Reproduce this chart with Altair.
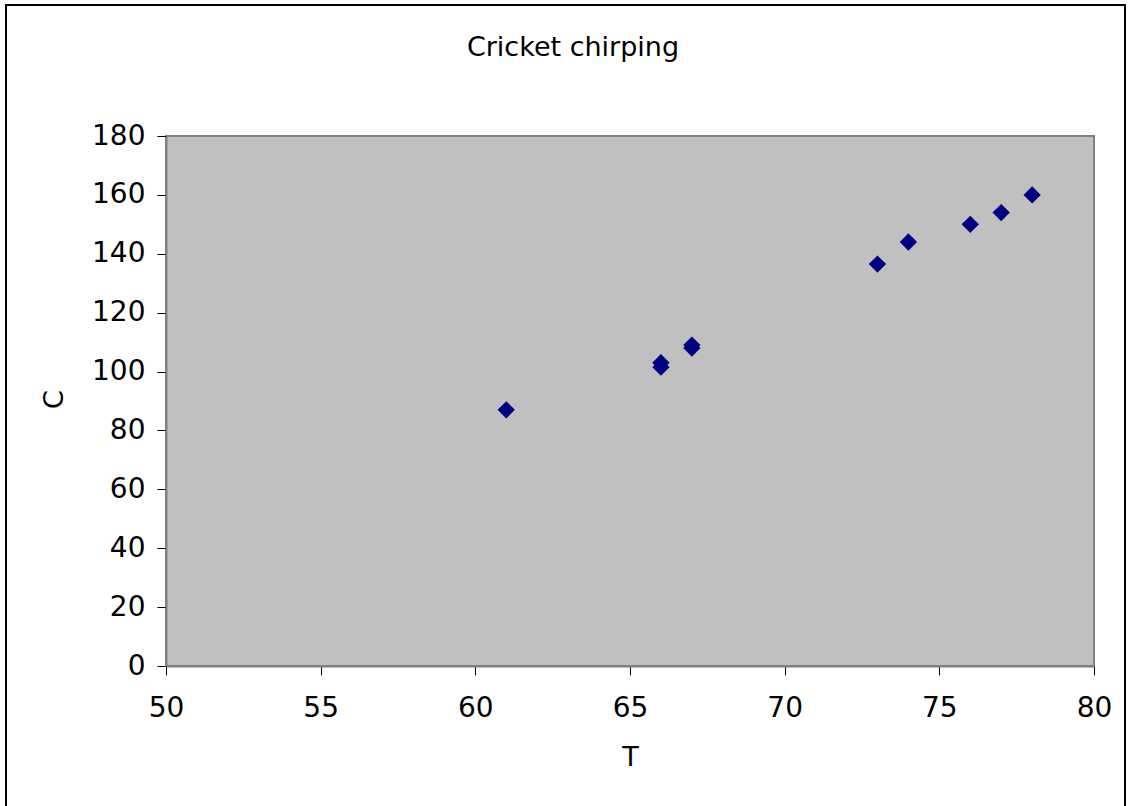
import altair as alt
import pandas as pd

T = [61, 66, 66, 67, 67, 73, 74, 76, 77, 78]
C = [87, 103, 101.5, 109, 108, 136.5, 144, 150, 154, 160]
x_ticks = [50, 55, 60, 65, 70, 75, 80]
y_ticks = [0, 20, 40, 60, 80, 100, 120, 140, 160, 180]
title_text = ["Cricket chirping"]

df = pd.DataFrame({"T": T, "C": C})
FONT = "DejaVu Sans"

points = alt.Chart(df).mark_point(
    shape="diamond", filled=True, color="#000080", size=300, opacity=1
).encode(
    x=alt.X("T:Q", scale=alt.Scale(domain=[50, 80], nice=False, zero=False),
            axis=alt.Axis(values=x_ticks, title="T", grid=False, tickSize=9,
                          domainColor="#808080", tickColor="#000000", domainWidth=2,
                          labelFont=FONT, labelFontSize=28, labelColor="#000000",
                          labelFlush=False, labelPadding=19,
                          titleFont=FONT, titleFontSize=27,
                          titleFontWeight="normal", titleColor="#000000",
                          titleX=464, titleY=91, titleBaseline="middle")),
    y=alt.Y("C:Q", scale=alt.Scale(domain=[0, 180], nice=False),
            axis=alt.Axis(values=y_ticks, title="C", grid=False, tickSize=9,
                          domainColor="#808080", tickColor="#000000", domainWidth=2,
                          labelFont=FONT, labelFontSize=28, labelColor="#000000",
                          labelFlush=False, labelPadding=12,
                          titleFont=FONT, titleFontSize=27,
                          titleFontWeight="normal", titleColor="#000000",
                          titleX=-112, titleY=263, titleBaseline="middle")),
)

frame = alt.Chart(df).mark_rect(fill=None, stroke="#000000", strokeWidth=1.5, clip=False).encode(
    x=alt.value(-160), x2=alt.value(959), y=alt.value(-131), y2=alt.value(796)
)

title = alt.Chart(pd.DataFrame({"t": title_text})).mark_text(
    font=FONT, fontSize=27, color="#000000", align="center", baseline="alphabetic"
).encode(text="t:N", x=alt.value(407), y=alt.value(-80))

chart = alt.layer(frame, points, title).properties(
    width=928, height=530,
    background="#ffffff",
    autosize=alt.AutoSizeParams(type="none"),
    padding={"left": 166, "top": 136, "right": 36, "bottom": 140},
).configure_view(fill="#C0C0C0", stroke="#808080", strokeWidth=2)

chart.save("out.html", embed_options={"renderer": "svg", "actions": False})
